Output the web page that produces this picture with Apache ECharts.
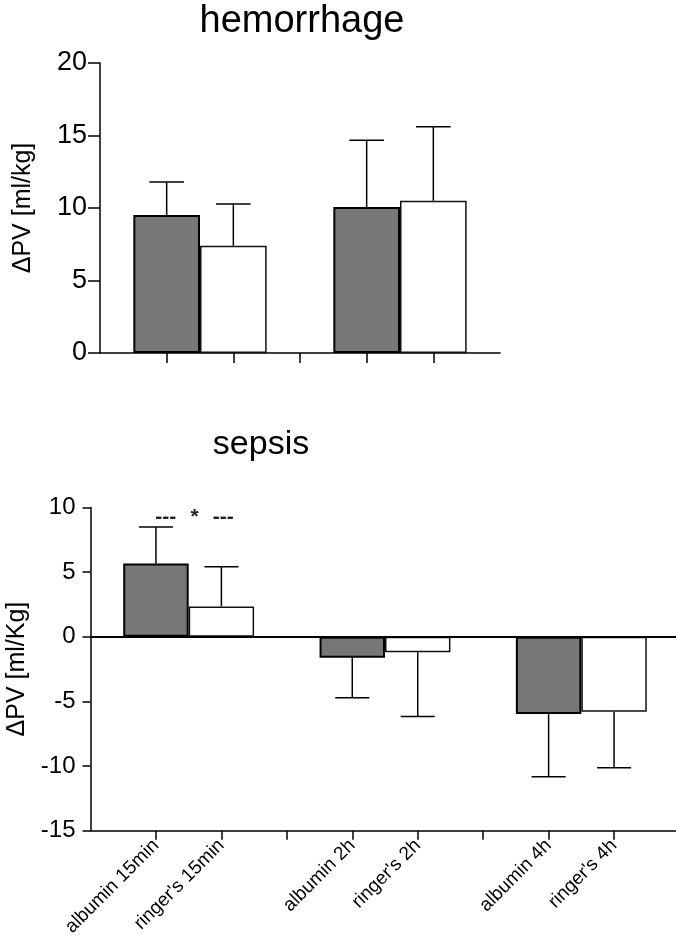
<!DOCTYPE html>
<html><head><meta charset="utf-8">
<script src="https://cdn.jsdelivr.net/npm/echarts@6/dist/echarts.min.js"></script>
<style>html,body{margin:0;padding:0;background:#fff}#c{width:676px;height:942px}</style>
</head><body><div id="c"></div>
<script>
// ---------- data ----------
const hemTimes = ['t1', 't2'];
const hemAlbuminMean = [9.52, 10.07];
const hemAlbuminSD = [2.27, 4.60];
const hemRingerMean = [7.40, 10.50];
const hemRingerSD = [2.88, 5.11];
const hemYTicks = [0, 5, 10, 15, 20];

const sepsisTimes = ['15min', '2h', '4h'];
const sepsisAlbuminMean = [5.67, -1.62, -5.98];
const sepsisAlbuminSD = [2.83, 3.10, 4.84];
const sepsisRingerMean = [2.35, -1.19, -5.80];
const sepsisRingerSD = [3.06, 4.97, 4.33];
const sepsisYTicks = [-15, -10, -5, 0, 5, 10];

const sigMarks = ['---', '*', '---'];
const sigPos = [1.15, 1.59, 2.03];
const sigValue = 9.2;

// ---------- build slot layout ----------
function buildSlots(times, aMean, aSD, rMean, rSD, labeled) {
  const cats = [], alb = [], rin = [], err = [];
  times.forEach((t, i) => {
    cats.push(''); alb.push(null); rin.push(null);
    cats.push(labeled ? 'albumin ' + t : ''); alb.push(aMean[i]); rin.push(null);
    err.push([cats.length - 1, aMean[i], aSD[i]]);
    cats.push(labeled ? "ringer's " + t : ''); alb.push(null); rin.push(rMean[i]);
    err.push([cats.length - 1, rMean[i], rSD[i]]);
  });
  cats.push(''); alb.push(null); rin.push(null);
  return {cats, alb, rin, err};
}
const hem = buildSlots(hemTimes, hemAlbuminMean, hemAlbuminSD, hemRingerMean, hemRingerSD, false);
const sep = buildSlots(sepsisTimes, sepsisAlbuminMean, sepsisAlbuminSD, sepsisRingerMean, sepsisRingerSD, true);

const FONT = '"Liberation Sans", Arial, sans-serif';
const BLACK = '#000';

function errRender(params, api) {
  const x = api.value(0), m = api.value(1), sd = api.value(2);
  const end = m >= 0 ? m + sd : m - sd;
  const p0 = api.coord([x, m]);
  const p1 = api.coord([x, end]);
  const half = api.size([1, 0])[0] * 0.26;
  const style = {stroke: BLACK, lineWidth: 1.5, fill: null};
  return {type: 'group', children: [
    {type: 'line', shape: {x1: p0[0], y1: p0[1], x2: p1[0], y2: p1[1]}, style},
    {type: 'line', shape: {x1: p1[0] - half, y1: p1[1], x2: p1[0] + half, y2: p1[1]}, style}
  ]};
}

function xAxisCfg(gridIndex, cats, showLabels, tickLen) {
  const n = cats.length;
  return {
    type: 'category', gridIndex, data: cats, boundaryGap: false,
    axisLine: {show: true, onZero: false, lineStyle: {color: BLACK, width: 1.5}},
    axisTick: {show: true, length: tickLen, interval: (i) => i !== 0 && i !== n - 1,
               lineStyle: {color: BLACK, width: 1.5}},
    axisLabel: showLabels ? {show: true, interval: 0, rotate: 45, fontSize: 19, color: BLACK,
               fontFamily: FONT, margin: 12} : {show: false},
    splitLine: {show: false}
  };
}
function yAxisCfg(gridIndex, ticks, name, nameGap, fontSize, margin, tickLen) {
  return {
    type: 'value', gridIndex, min: ticks[0], max: ticks[ticks.length - 1],
    interval: ticks[1] - ticks[0],
    axisLine: {show: true, lineStyle: {color: BLACK, width: 1.5}},
    axisTick: {show: true, length: tickLen, lineStyle: {color: BLACK, width: 1.5}},
    axisLabel: {fontSize, color: BLACK, fontFamily: FONT, margin},
    splitLine: {show: false},
    name, nameLocation: 'middle', nameRotate: 90, nameGap,
    nameTextStyle: {fontSize: 25, color: BLACK, fontFamily: FONT}
  };
}

const chart = echarts.init(document.getElementById('c'), null, {renderer: 'canvas'});
const option = {
  animation: false,
  backgroundColor: '#fff',
  grid: [
    {left: 100, top: 63, width: 400, height: 290, outerBoundsMode: 'none', containLabel: false},
    {left: 90.5, top: 507.5, width: 589, height: 323.2, outerBoundsMode: 'none', containLabel: false}
  ],
  xAxis: [xAxisCfg(0, hem.cats, false, 10), xAxisCfg(1, sep.cats, true, 9)],
  yAxis: [
    yAxisCfg(0, hemYTicks, 'ΔPV [ml/kg]', 64, 27, 13, 12),
    yAxisCfg(1, sepsisYTicks, 'ΔPV [ml/Kg]', 55, 24, 15, 8)
  ],
  series: [
    {type: 'custom', xAxisIndex: 0, yAxisIndex: 0, data: hem.err, renderItem: errRender, z: 1},
    {type: 'bar', xAxisIndex: 0, yAxisIndex: 0, data: hem.alb, barWidth: '100%', barGap: '-100%',
     itemStyle: {color: '#777777', borderColor: BLACK, borderWidth: 2}, z: 3},
    {type: 'bar', xAxisIndex: 0, yAxisIndex: 0, data: hem.rin, barWidth: '100%', barGap: '-100%',
     itemStyle: {color: '#ffffff', borderColor: '#111', borderWidth: 1.5}, z: 2},
    {type: 'custom', xAxisIndex: 1, yAxisIndex: 1, data: sep.err, renderItem: errRender, z: 1},
    {type: 'bar', xAxisIndex: 1, yAxisIndex: 1, data: sep.alb, barWidth: '100%', barGap: '-100%',
     itemStyle: {color: '#777777', borderColor: BLACK, borderWidth: 2}, z: 3,
     markLine: {silent: true, symbol: ['none', 'none'], label: {show: false},
       lineStyle: {color: BLACK, width: 2, type: 'solid'}, data: [{yAxis: 0}], z: 5}},
    {type: 'bar', xAxisIndex: 1, yAxisIndex: 1, data: sep.rin, barWidth: '100%', barGap: '-100%',
     itemStyle: {color: '#ffffff', borderColor: '#111', borderWidth: 1.5}, z: 2}
  ],
  graphic: [
    {type: 'text', x: 302, y: 22, style: {text: 'hemorrhage', fontSize: 38, fontFamily: FONT,
      fill: BLACK, align: 'center', verticalAlign: 'middle'}},
    {type: 'text', x: 261, y: 445, style: {text: 'sepsis', fontSize: 34, fontFamily: FONT,
      fill: BLACK, align: 'center', verticalAlign: 'middle'}}
  ]
};
chart.setOption(option);

// significance annotation above first sepsis group
const pA = chart.convertToPixel({xAxisIndex: 1, yAxisIndex: 1}, [1, sigValue]);
const pB = chart.convertToPixel({xAxisIndex: 1, yAxisIndex: 1}, [2, sigValue]);
const extra = sigMarks.map((t, i) => ({
  type: 'text',
  x: pA[0] + (sigPos[i] - 1) * (pB[0] - pA[0]),
  y: pA[1] - 1,
  style: {text: t, fontSize: 21, fontFamily: FONT, fontWeight: 'bold', fill: '#222', align: 'center', verticalAlign: 'middle'}
}));
chart.setOption({graphic: option.graphic.concat(extra)});
</script>
</body></html>
